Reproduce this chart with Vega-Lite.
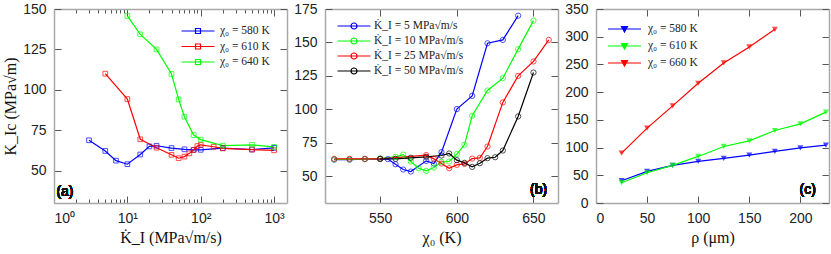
{
  "$schema": "https://vega.github.io/schema/vega-lite/v6.json",
  "padding": {"left": 2, "top": 2, "right": 2, "bottom": 2},
  "spacing": 5,
  "resolve": {"scale": {"color": "independent"}, "legend": {"color": "independent"}},
  "config": {
    "view": {"stroke": null},
    "axis": {"grid": false, "domainColor": "#a8a8a8", "domainWidth": 1.5, "tickColor": "#555555", "tickSize": -7, "tickWidth": 1, "labelFont": "Liberation Sans", "labelFontSize": 14, "labelColor": "#222222", "labelPadding": 15, "titleFont": "Liberation Serif, DejaVu Serif, serif", "titleFontSize": 16, "titleFontWeight": "normal", "titleColor": "#111111", "titlePadding": 4},
    "legend": {"padding": 0, "labelFont": "Liberation Serif, DejaVu Serif, serif", "labelFontSize": 11.5, "labelColor": "#222222", "symbolSize": 100, "symbolStrokeWidth": 1.2, "labelOffset": 16, "rowPadding": 3.5}
  },
  "datasets": {
    "a": [
      {"rate": 3, "k": 68.8, "series": "χ₀ = 580 K"},
      {"rate": 5, "k": 62.2, "series": "χ₀ = 580 K"},
      {"rate": 7, "k": 56.2, "series": "χ₀ = 580 K"},
      {"rate": 10, "k": 54.0, "series": "χ₀ = 580 K"},
      {"rate": 15, "k": 60.0, "series": "χ₀ = 580 K"},
      {"rate": 20, "k": 65.0, "series": "χ₀ = 580 K"},
      {"rate": 25, "k": 65.4, "series": "χ₀ = 580 K"},
      {"rate": 40, "k": 64.0, "series": "χ₀ = 580 K"},
      {"rate": 60, "k": 63.2, "series": "χ₀ = 580 K"},
      {"rate": 80, "k": 62.9, "series": "χ₀ = 580 K"},
      {"rate": 100, "k": 62.9, "series": "χ₀ = 580 K"},
      {"rate": 200, "k": 63.9, "series": "χ₀ = 580 K"},
      {"rate": 500, "k": 63.1, "series": "χ₀ = 580 K"},
      {"rate": 1000, "k": 64.1, "series": "χ₀ = 580 K"},
      {"rate": 5, "k": 110.0, "series": "χ₀ = 610 K"},
      {"rate": 10, "k": 94.3, "series": "χ₀ = 610 K"},
      {"rate": 15, "k": 69.4, "series": "χ₀ = 610 K"},
      {"rate": 25, "k": 64.2, "series": "χ₀ = 610 K"},
      {"rate": 40, "k": 59.8, "series": "χ₀ = 610 K"},
      {"rate": 50, "k": 57.7, "series": "χ₀ = 610 K"},
      {"rate": 60, "k": 58.7, "series": "χ₀ = 610 K"},
      {"rate": 70, "k": 60.7, "series": "χ₀ = 610 K"},
      {"rate": 80, "k": 62.8, "series": "χ₀ = 610 K"},
      {"rate": 90, "k": 65.2, "series": "χ₀ = 610 K"},
      {"rate": 100, "k": 66.0, "series": "χ₀ = 610 K"},
      {"rate": 150, "k": 64.8, "series": "χ₀ = 610 K"},
      {"rate": 200, "k": 63.8, "series": "χ₀ = 610 K"},
      {"rate": 500, "k": 63.0, "series": "χ₀ = 610 K"},
      {"rate": 1000, "k": 62.6, "series": "χ₀ = 610 K"},
      {"rate": 10, "k": 145.7, "series": "χ₀ = 640 K"},
      {"rate": 15, "k": 134.3, "series": "χ₀ = 640 K"},
      {"rate": 25, "k": 125.0, "series": "χ₀ = 640 K"},
      {"rate": 40, "k": 109.8, "series": "χ₀ = 640 K"},
      {"rate": 50, "k": 94.1, "series": "χ₀ = 640 K"},
      {"rate": 60, "k": 83.4, "series": "χ₀ = 640 K"},
      {"rate": 80, "k": 72.0, "series": "χ₀ = 640 K"},
      {"rate": 100, "k": 69.2, "series": "χ₀ = 640 K"},
      {"rate": 200, "k": 65.5, "series": "χ₀ = 640 K"},
      {"rate": 500, "k": 66.0, "series": "χ₀ = 640 K"},
      {"rate": 1000, "k": 64.7, "series": "χ₀ = 640 K"}
    ],
    "b": [
      {"chi": 520, "k": 62.4, "series": "K̇_I = 5 MPa√m/s"},
      {"chi": 530, "k": 62.4, "series": "K̇_I = 5 MPa√m/s"},
      {"chi": 540, "k": 62.8, "series": "K̇_I = 5 MPa√m/s"},
      {"chi": 550, "k": 63.0, "series": "K̇_I = 5 MPa√m/s"},
      {"chi": 555, "k": 62.8, "series": "K̇_I = 5 MPa√m/s"},
      {"chi": 560, "k": 59.0, "series": "K̇_I = 5 MPa√m/s"},
      {"chi": 565, "k": 55.0, "series": "K̇_I = 5 MPa√m/s"},
      {"chi": 570, "k": 53.5, "series": "K̇_I = 5 MPa√m/s"},
      {"chi": 580, "k": 61.5, "series": "K̇_I = 5 MPa√m/s"},
      {"chi": 585, "k": 59.5, "series": "K̇_I = 5 MPa√m/s"},
      {"chi": 590, "k": 68.0, "series": "K̇_I = 5 MPa√m/s"},
      {"chi": 600, "k": 100.2, "series": "K̇_I = 5 MPa√m/s"},
      {"chi": 610, "k": 110.1, "series": "K̇_I = 5 MPa√m/s"},
      {"chi": 620, "k": 149.4, "series": "K̇_I = 5 MPa√m/s"},
      {"chi": 630, "k": 151.9, "series": "K̇_I = 5 MPa√m/s"},
      {"chi": 640, "k": 170.0, "series": "K̇_I = 5 MPa√m/s"},
      {"chi": 520, "k": 62.6, "series": "K̇_I = 10 MPa√m/s"},
      {"chi": 530, "k": 62.6, "series": "K̇_I = 10 MPa√m/s"},
      {"chi": 540, "k": 62.8, "series": "K̇_I = 10 MPa√m/s"},
      {"chi": 550, "k": 63.3, "series": "K̇_I = 10 MPa√m/s"},
      {"chi": 560, "k": 64.5, "series": "K̇_I = 10 MPa√m/s"},
      {"chi": 565, "k": 66.2, "series": "K̇_I = 10 MPa√m/s"},
      {"chi": 570, "k": 61.0, "series": "K̇_I = 10 MPa√m/s"},
      {"chi": 575, "k": 56.0, "series": "K̇_I = 10 MPa√m/s"},
      {"chi": 580, "k": 54.0, "series": "K̇_I = 10 MPa√m/s"},
      {"chi": 585, "k": 56.5, "series": "K̇_I = 10 MPa√m/s"},
      {"chi": 590, "k": 60.8, "series": "K̇_I = 10 MPa√m/s"},
      {"chi": 595, "k": 61.0, "series": "K̇_I = 10 MPa√m/s"},
      {"chi": 600, "k": 66.5, "series": "K̇_I = 10 MPa√m/s"},
      {"chi": 605, "k": 73.5, "series": "K̇_I = 10 MPa√m/s"},
      {"chi": 610, "k": 95.2, "series": "K̇_I = 10 MPa√m/s"},
      {"chi": 620, "k": 114.1, "series": "K̇_I = 10 MPa√m/s"},
      {"chi": 630, "k": 123.3, "series": "K̇_I = 10 MPa√m/s"},
      {"chi": 640, "k": 145.0, "series": "K̇_I = 10 MPa√m/s"},
      {"chi": 650, "k": 166.3, "series": "K̇_I = 10 MPa√m/s"},
      {"chi": 520, "k": 63.0, "series": "K̇_I = 25 MPa√m/s"},
      {"chi": 530, "k": 63.0, "series": "K̇_I = 25 MPa√m/s"},
      {"chi": 540, "k": 63.0, "series": "K̇_I = 25 MPa√m/s"},
      {"chi": 550, "k": 63.0, "series": "K̇_I = 25 MPa√m/s"},
      {"chi": 580, "k": 65.8, "series": "K̇_I = 25 MPa√m/s"},
      {"chi": 585, "k": 63.0, "series": "K̇_I = 25 MPa√m/s"},
      {"chi": 590, "k": 59.5, "series": "K̇_I = 25 MPa√m/s"},
      {"chi": 595, "k": 56.0, "series": "K̇_I = 25 MPa√m/s"},
      {"chi": 600, "k": 58.5, "series": "K̇_I = 25 MPa√m/s"},
      {"chi": 605, "k": 59.2, "series": "K̇_I = 25 MPa√m/s"},
      {"chi": 610, "k": 63.2, "series": "K̇_I = 25 MPa√m/s"},
      {"chi": 615, "k": 63.7, "series": "K̇_I = 25 MPa√m/s"},
      {"chi": 620, "k": 72.2, "series": "K̇_I = 25 MPa√m/s"},
      {"chi": 630, "k": 105.2, "series": "K̇_I = 25 MPa√m/s"},
      {"chi": 640, "k": 125.0, "series": "K̇_I = 25 MPa√m/s"},
      {"chi": 650, "k": 135.8, "series": "K̇_I = 25 MPa√m/s"},
      {"chi": 660, "k": 151.9, "series": "K̇_I = 25 MPa√m/s"},
      {"chi": 550, "k": 63.0, "series": "K̇_I = 50 MPa√m/s"},
      {"chi": 560, "k": 63.0, "series": "K̇_I = 50 MPa√m/s"},
      {"chi": 570, "k": 63.8, "series": "K̇_I = 50 MPa√m/s"},
      {"chi": 580, "k": 64.5, "series": "K̇_I = 50 MPa√m/s"},
      {"chi": 590, "k": 65.5, "series": "K̇_I = 50 MPa√m/s"},
      {"chi": 595, "k": 67.0, "series": "K̇_I = 50 MPa√m/s"},
      {"chi": 600, "k": 62.0, "series": "K̇_I = 50 MPa√m/s"},
      {"chi": 605, "k": 60.0, "series": "K̇_I = 50 MPa√m/s"},
      {"chi": 610, "k": 57.0, "series": "K̇_I = 50 MPa√m/s"},
      {"chi": 615, "k": 59.7, "series": "K̇_I = 50 MPa√m/s"},
      {"chi": 620, "k": 63.5, "series": "K̇_I = 50 MPa√m/s"},
      {"chi": 625, "k": 64.2, "series": "K̇_I = 50 MPa√m/s"},
      {"chi": 630, "k": 69.2, "series": "K̇_I = 50 MPa√m/s"},
      {"chi": 640, "k": 94.7, "series": "K̇_I = 50 MPa√m/s"},
      {"chi": 650, "k": 127.5, "series": "K̇_I = 50 MPa√m/s"}
    ],
    "c": [
      {"rho": 25, "k": 40.2, "series": "χ₀ = 580 K"},
      {"rho": 50, "k": 57.0, "series": "χ₀ = 580 K"},
      {"rho": 75, "k": 67.8, "series": "χ₀ = 580 K"},
      {"rho": 100, "k": 75.0, "series": "χ₀ = 580 K"},
      {"rho": 125, "k": 80.4, "series": "χ₀ = 580 K"},
      {"rho": 150, "k": 86.4, "series": "χ₀ = 580 K"},
      {"rho": 175, "k": 93.0, "series": "χ₀ = 580 K"},
      {"rho": 200, "k": 99.6, "series": "χ₀ = 580 K"},
      {"rho": 225, "k": 104.4, "series": "χ₀ = 580 K"},
      {"rho": 25, "k": 36.6, "series": "χ₀ = 610 K"},
      {"rho": 50, "k": 54.6, "series": "χ₀ = 610 K"},
      {"rho": 75, "k": 67.8, "series": "χ₀ = 610 K"},
      {"rho": 100, "k": 84.0, "series": "χ₀ = 610 K"},
      {"rho": 125, "k": 102.0, "series": "χ₀ = 610 K"},
      {"rho": 150, "k": 112.2, "series": "χ₀ = 610 K"},
      {"rho": 175, "k": 130.8, "series": "χ₀ = 610 K"},
      {"rho": 200, "k": 142.8, "series": "χ₀ = 610 K"},
      {"rho": 225, "k": 163.9, "series": "χ₀ = 610 K"},
      {"rho": 25, "k": 90.0, "series": "χ₀ = 660 K"},
      {"rho": 50, "k": 135.0, "series": "χ₀ = 660 K"},
      {"rho": 75, "k": 175.3, "series": "χ₀ = 660 K"},
      {"rho": 100, "k": 216.0, "series": "χ₀ = 660 K"},
      {"rho": 125, "k": 252.7, "series": "χ₀ = 660 K"},
      {"rho": 150, "k": 281.5, "series": "χ₀ = 660 K"},
      {"rho": 175, "k": 313.3, "series": "χ₀ = 660 K"}
    ]
  },
  "hconcat": [
    {
      "width": 233, "height": 194,
      "data": {"name": "a"},
      "resolve": {"axis": {"x": "independent", "y": "independent"}},
      "layer": [
        {
          "mark": {"type": "line", "strokeWidth": 1.2},
          "encoding": {
            "x": {"field": "rate", "type": "quantitative", "scale": {"type": "log", "domain": [1, 1500], "nice": false},
              "axis": {"title": "K̇_I (MPa√m/s)", "values": [1,2,3,4,5,6,7,8,9,10,20,30,40,50,60,70,80,90,100,200,300,400,500,600,700,800,900,1000],
                "labelExpr": "datum.value == 1 ? '10⁰' : datum.value == 10 ? '10¹' : datum.value == 100 ? '10²' : datum.value == 1000 ? '10³' : ''",
                "tickSize": {"condition": {"test": "datum.value == 1 || datum.value == 10 || datum.value == 100 || datum.value == 1000", "value": -7}, "value": -4}}},
            "y": {"field": "k", "type": "quantitative", "scale": {"domain": [30, 150], "nice": false, "zero": false},
              "axis": {"title": "K_Ic (MPa√m)", "values": [50, 75, 100, 125, 150]}},
            "color": {"field": "series", "type": "nominal", "scale": {"domain": ["χ₀ = 580 K", "χ₀ = 610 K", "χ₀ = 640 K"], "range": ["#0000ff", "#ff0000", "#00ff00"]},
              "legend": {"title": null, "orient": "none", "legendX": 138, "legendY": 16, "symbolType": "M-3.3,0H3.3M-0.5,-0.5H0.5V0.5H-0.5Z", "symbolFillColor": "transparent"}}
          }
        },
        {
          "mark": {"type": "point", "shape": "square", "filled": false, "size": 22, "strokeWidth": 1},
          "encoding": {
            "x": {"field": "rate", "type": "quantitative", "axis": {"orient": "top", "labels": false, "title": null, "values": [1,2,3,4,5,6,7,8,9,10,20,30,40,50,60,70,80,90,100,200,300,400,500,600,700,800,900,1000],
                "tickSize": {"condition": {"test": "datum.value == 1 || datum.value == 10 || datum.value == 100 || datum.value == 1000", "value": -7}, "value": -4}}},
            "y": {"field": "k", "type": "quantitative", "axis": {"orient": "right", "labels": false, "title": null, "values": [50, 75, 100, 125, 150]}},
            "color": {"field": "series", "type": "nominal", "legend": null}
          }
        },
        {
          "mark": {"type": "text", "text": "(a)", "font": "Liberation Sans", "fontSize": 14, "color": "#111111"},
          "encoding": {
            "x": {"datum": 1.41, "type": "quantitative", "axis": null},
            "y": {"datum": 37, "type": "quantitative", "axis": null}
          }
        }
      ]
    },
    {
      "width": 233, "height": 194,
      "data": {"name": "b"},
      "resolve": {"axis": {"x": "independent", "y": "independent"}},
      "layer": [
        {
          "mark": {"type": "line", "strokeWidth": 1.2},
          "encoding": {
            "x": {"field": "chi", "type": "quantitative", "scale": {"domain": [514, 666], "nice": false, "zero": false},
              "axis": {"title": "χ₀ (K)", "values": [550, 600, 650]}},
            "y": {"field": "k", "type": "quantitative", "scale": {"domain": [30, 175], "nice": false, "zero": false},
              "axis": {"title": null, "values": [50, 75, 100, 125, 150, 175]}},
            "color": {"field": "series", "type": "nominal", "scale": {"domain": ["K̇_I = 5 MPa√m/s", "K̇_I = 10 MPa√m/s", "K̇_I = 25 MPa√m/s", "K̇_I = 50 MPa√m/s"], "range": ["#0000ff", "#00ff00", "#ff0000", "#000000"]},
              "legend": {"title": null, "orient": "none", "legendX": 23, "legendY": 11, "labelOffset": 14, "rowPadding": 3, "symbolType": "M-3.3,0H3.3M0.6,0A0.6,0.6 0 1,1 -0.6,0A0.6,0.6 0 1,1 0.6,0Z", "symbolFillColor": "transparent"}}
          }
        },
        {
          "mark": {"type": "point", "shape": "circle", "filled": false, "size": 28, "strokeWidth": 1},
          "encoding": {
            "x": {"field": "chi", "type": "quantitative", "axis": {"orient": "top", "labels": false, "title": null, "values": [550, 600, 650]}},
            "y": {"field": "k", "type": "quantitative", "axis": {"orient": "right", "labels": false, "title": null, "values": [50, 75, 100, 125, 150, 175]}},
            "color": {"field": "series", "type": "nominal", "legend": null}
          }
        },
        {
          "mark": {"type": "text", "text": "(b)", "font": "Liberation Sans", "fontSize": 14, "color": "#111111"},
          "encoding": {
            "x": {"datum": 653.4, "type": "quantitative", "axis": null},
            "y": {"datum": 39.6, "type": "quantitative", "axis": null}
          }
        }
      ]
    },
    {
      "width": 233, "height": 194,
      "data": {"name": "c"},
      "resolve": {"axis": {"x": "independent", "y": "independent"}},
      "layer": [
        {
          "mark": {"type": "line", "strokeWidth": 1.2},
          "encoding": {
            "x": {"field": "rho", "type": "quantitative", "scale": {"domain": [0, 228], "nice": false},
              "axis": {"title": "ρ (μm)", "values": [0, 50, 100, 150, 200]}},
            "y": {"field": "k", "type": "quantitative", "scale": {"domain": [0, 350], "nice": false},
              "axis": {"title": null, "values": [0, 50, 100, 150, 200, 250, 300, 350]}},
            "color": {"field": "series", "type": "nominal", "scale": {"domain": ["χ₀ = 580 K", "χ₀ = 610 K", "χ₀ = 660 K"], "range": ["#0000ff", "#00ff00", "#ff0000"]},
              "legend": {"title": null, "orient": "none", "legendX": 22.5, "legendY": 14, "labelOffset": 17.5, "rowPadding": 5, "symbolType": "M-3.3,0H3.3M-0.6,-0.5L0.6,-0.5L0,0.6Z",
                "encode": {"symbols": {"update": {"fill": {"signal": "datum.value == 'χ₀ = 580 K' ? '#0000ff' : datum.value == 'χ₀ = 610 K' ? '#00ff00' : '#ff0000'"}}}}}}
          }
        },
        {
          "mark": {"type": "point", "shape": "triangle-down", "filled": true, "size": 36},
          "encoding": {
            "x": {"field": "rho", "type": "quantitative", "axis": {"orient": "top", "labels": false, "title": null, "values": [0, 50, 100, 150, 200]}},
            "y": {"field": "k", "type": "quantitative", "axis": {"orient": "right", "labels": false, "title": null, "values": [0, 50, 100, 150, 200, 250, 300, 350]}},
            "color": {"field": "series", "type": "nominal", "legend": null}
          }
        },
        {
          "mark": {"type": "text", "text": "(c)", "font": "Liberation Sans", "fontSize": 14, "color": "#111111"},
          "encoding": {
            "x": {"datum": 207.2, "type": "quantitative", "axis": null},
            "y": {"datum": 22.7, "type": "quantitative", "axis": null}
          }
        }
      ]
    }
  ]
}
